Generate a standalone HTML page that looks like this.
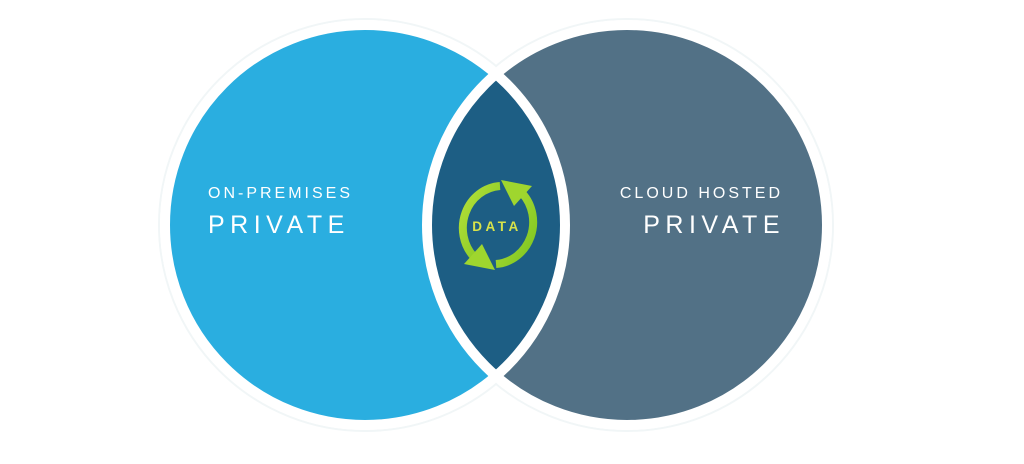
<!DOCTYPE html>
<html><head><meta charset="utf-8"><style>
html,body{margin:0;padding:0;background:#fff;}
svg{display:block}
text{font-family:"Liberation Sans",sans-serif;}
</style></head><body>
<svg width="1024" height="464" viewBox="0 0 1024 464" xmlns="http://www.w3.org/2000/svg">
<defs>
<linearGradient id="g" x1="0" y1="0" x2="1" y2="1">
<stop offset="0" stop-color="#b6e03a"/><stop offset="1" stop-color="#7cc520"/>
</linearGradient>
</defs>
<circle cx="365" cy="225" r="206" fill="none" stroke="#f1f6f7" stroke-width="2"/>
<circle cx="627" cy="225" r="206" fill="none" stroke="#f1f6f7" stroke-width="2"/>
<circle cx="365" cy="225" r="200" fill="#2aaee0"/>
<circle cx="627" cy="225" r="200" fill="#527186"/>
<path d="M496,74 A200,200 0 0 1 496,376 A200,200 0 0 1 496,74 Z" fill="#1d5e84"/>
<circle cx="365" cy="225" r="200" fill="none" stroke="#fff" stroke-width="10"/>
<circle cx="627" cy="225" r="200" fill="none" stroke="#fff" stroke-width="10"/>
<path d="M500,186 A40,42 0 0 0 474,257" fill="none" stroke="url(#g)" stroke-width="8"/>
<polygon points="495,270 464,264 482,244" fill="#9fd62e"/>
<path d="M496,264 A40,42 0 0 0 522,193" fill="none" stroke="url(#g)" stroke-width="8"/>
<polygon points="501,180 532,186 514,206" fill="#9fd62e"/>
<text x="497" y="231" text-anchor="middle" font-size="13.5" font-weight="bold" fill="#d8e24a" letter-spacing="3.5">DATA</text>
<text x="208" y="198" font-size="16" fill="#fff" letter-spacing="3">ON-PREMISES</text>
<text x="208" y="233" font-size="25" fill="#fff" letter-spacing="5.5">PRIVATE</text>
<text x="783" y="198" text-anchor="end" font-size="16" fill="#fff" letter-spacing="3">CLOUD HOSTED</text>
<text x="785" y="233" text-anchor="end" font-size="25" fill="#fff" letter-spacing="5.5">PRIVATE</text>
</svg>
</body></html>
